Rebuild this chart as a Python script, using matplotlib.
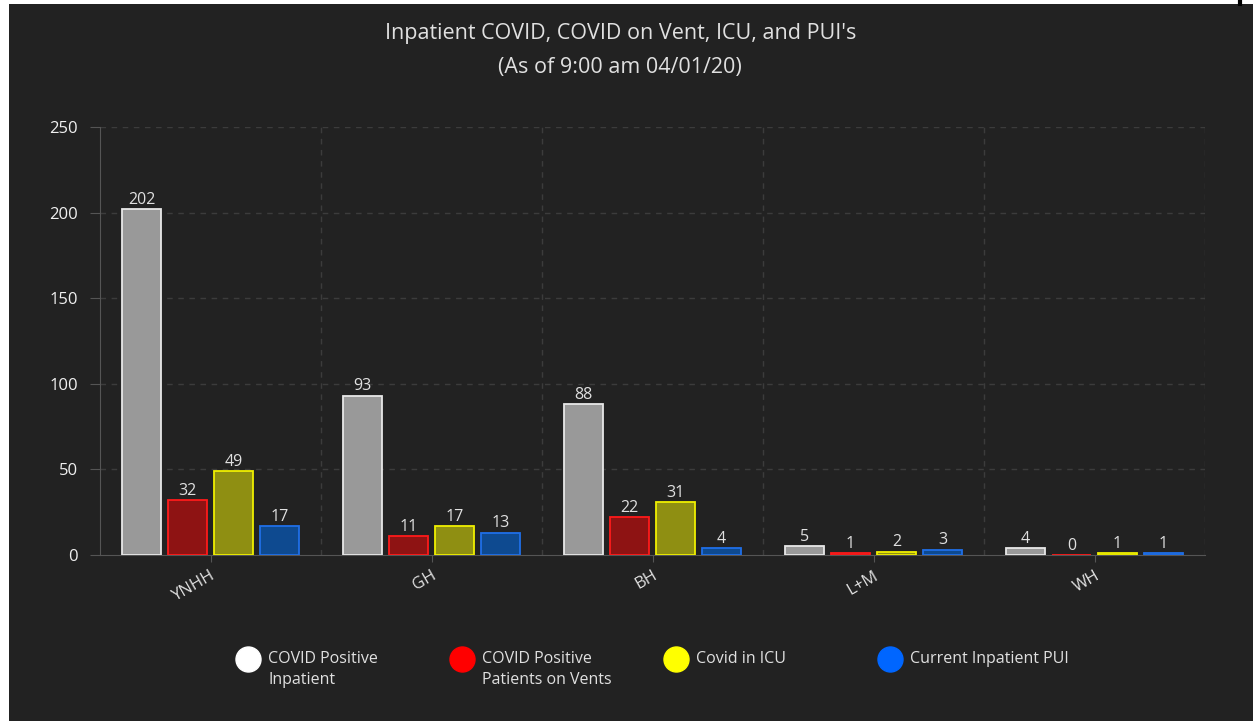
import numpy as np
import matplotlib.pyplot as plt
from matplotlib.patches import Rectangle
from matplotlib.lines import Line2D

# data
hospitals = ["YNHH", "GH", "BH", "L+M", "WH"]
covid_inpatient = [202, 93, 88, 5, 4]
covid_vents = [32, 11, 22, 1, 0]
covid_icu = [49, 17, 31, 2, 1]
pui_inpatient = [17, 13, 4, 3, 1]

series_names = ["COVID Positive\nInpatient", "COVID Positive\nPatients on Vents",
                "Covid in ICU", "Current Inpatient PUI"]
fill_colors = ["#999999", "#8e1313", "#8f8f12", "#0e4a90"]
edge_colors = ["#e8e8e8", "#ff1a1a", "#f0f000", "#1f6fe8"]
legend_colors = ["#ffffff", "#ff0000", "#ffff00", "#0066ff"]

bg = "#222222"
txt = "#e0e0e0"

plt.rcParams["font.family"] = ["Open Sans", "DejaVu Sans"]

fig = plt.figure(figsize=(12.53, 7.21), dpi=100)
fig.patch.set_facecolor("white")
# dark panel (the screenshot has a thin white margin on top and left)
fig.add_artist(Rectangle((9 / 1253, 0), 1, 1 - 4 / 721, transform=fig.transFigure,
                         facecolor=bg, edgecolor="none", zorder=-10))
fig.add_artist(Line2D([1240 / 1253, 1240 / 1253], [1 - 4 / 721, 1], transform=fig.transFigure,
                      color="black", lw=3))

ax = fig.add_axes([100 / 1253, 1 - 555 / 721, 1105 / 1253, 428 / 721])
ax.set_facecolor(bg)

x = np.arange(len(hospitals))
width = 0.176
step = 0.208
all_series = [covid_inpatient, covid_vents, covid_icu, pui_inpatient]

for i, vals in enumerate(all_series):
    offs = (i - 1.5) * step
    bars = ax.bar(x + offs, vals, width, color=fill_colors[i],
                  edgecolor=edge_colors[i], linewidth=1.3, zorder=3)
    ax.bar_label(bars, labels=[str(v) for v in vals], padding=1,
                 color=txt, fontsize=11.5)

ax.set_xlim(-0.5, len(hospitals) - 0.5)
ax.set_ylim(0, 250)
ax.set_yticks([0, 50, 100, 150, 200, 250])
ax.set_xticks(x)
ax.set_xticklabels(hospitals, rotation=30, ha="right", rotation_mode="anchor")

# dashed grid: horizontal at y ticks, vertical at category boundaries
for yv in [50, 100, 150, 200, 250]:
    ax.axhline(yv, color="#3c3c3c", lw=1, ls=(0, (4, 4)), zorder=1)
for xv in np.arange(0.5, len(hospitals), 1.0):
    ax.axvline(xv, color="#3c3c3c", lw=1, ls=(0, (4, 4)), zorder=1)

for s in ["top", "right"]:
    ax.spines[s].set_visible(False)
ax.spines["left"].set_color("#555555")
ax.spines["bottom"].set_color("#555555")
ax.tick_params(axis="y", colors="#555555", labelcolor="#f0f0f0", labelsize=12, length=7, pad=9)
ax.tick_params(axis="x", colors="#555555", labelcolor=txt, labelsize=12, length=5, pad=4)

fig.text(0.495, 1 - 33 / 721, "Inpatient COVID, COVID on Vent, ICU, and PUI's",
         ha="center", va="center", color=txt, fontsize=15.5)
fig.text(0.495, 1 - 68 / 721, "(As of 9:00 am 04/01/20)",
         ha="center", va="center", color=txt, fontsize=15.5)

# legend row
marker_x = [248, 462, 676, 890]
for mx, name, col in zip(marker_x, series_names, legend_colors):
    fig.add_artist(Line2D([mx / 1253], [1 - 659 / 721], marker="o", markersize=18,
                          color=col, transform=fig.transFigure, lw=0))
    fig.text((mx + 20) / 1253, 1 - 651 / 721, name, ha="left", va="top",
             color=txt, fontsize=11.5, linespacing=1.4)

fig.savefig("out.png", dpi=100, facecolor=fig.get_facecolor())
